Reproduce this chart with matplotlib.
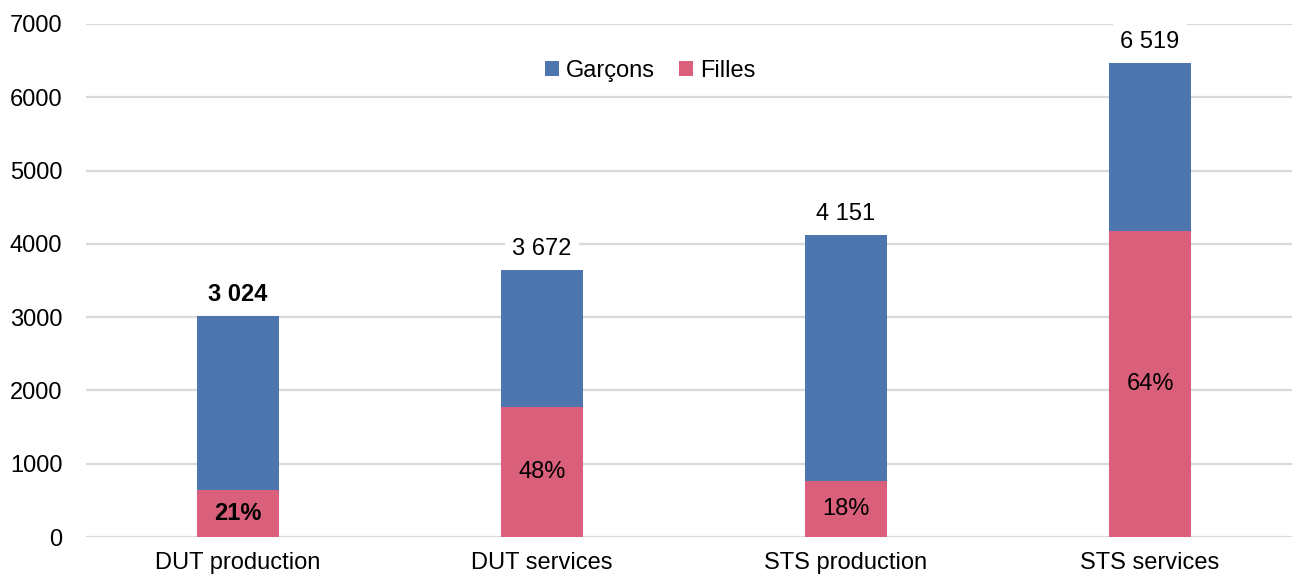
import matplotlib
matplotlib.use("Agg")
import matplotlib.pyplot as plt
import numpy as np

plt.rcParams['font.family'] = ['Liberation Sans', 'DejaVu Sans']

categories = ["DUT production", "DUT services", "STS production", "STS services"]
filles = [640, 1770, 760, 4180]
garcons = [2380, 1875, 3360, 2290]
total_labels = ["3 024", "3 672", "4 151", "6 519"]
pct_labels = ["21%", "48%", "18%", "64%"]
bold_flags = [True, False, False, False]

blue = "#4E76AE"
pink = "#D95F7A"
grid = "#D9D9D9"
FS = 17

fig = plt.figure(figsize=(12.92, 5.75), dpi=100)
ax = fig.add_axes([86/1292, 38/575, 1216/1292, 513/575])

x = np.arange(len(categories))
w = 0.27
ax.bar(x, filles, w, color=pink, label="Filles", zorder=2)
ax.bar(x, garcons, w, bottom=filles, color=blue, label="Garçons", zorder=2)

ax.set_xlim(-0.5, 3.5)
ax.set_ylim(0, 7000)
ax.set_yticks(range(0, 7001, 1000))
ax.yaxis.grid(True, color=grid, linewidth=1.6, zorder=0)
ax.set_axisbelow(True)
for s in ax.spines.values():
    s.set_visible(False)
ax.tick_params(axis='both', length=0, labelsize=FS)
ax.tick_params(axis='y', pad=17)
ax.tick_params(axis='x', pad=11)
ax.set_xticks(x)
ax.set_xticklabels(categories)

for i in range(len(categories)):
    top = filles[i] + garcons[i]
    fw = 'bold' if bold_flags[i] else 'normal'
    ax.annotate(total_labels[i], (x[i], top), xytext=(0, 7), textcoords='offset points',
                ha='center', va='bottom', fontsize=FS, fontweight=fw,
                bbox=dict(boxstyle='square,pad=0.3', fc='white', ec='none'), zorder=3)
    ax.text(x[i], filles[i] / 2, pct_labels[i], ha='center', va='center',
            fontsize=FS, fontweight=fw, zorder=3)

handles, labels = ax.get_legend_handles_labels()
leg = ax.legend(handles[::-1], labels[::-1], loc='center',
                bbox_to_anchor=((650 - 86) / 1216, (575 - 71 - 38) / 513),
                ncol=2, frameon=False, fontsize=FS, handlelength=0.6, handleheight=0.6,
                handletextpad=0.3, columnspacing=1.0)

fig.savefig("out.png", dpi=100)
